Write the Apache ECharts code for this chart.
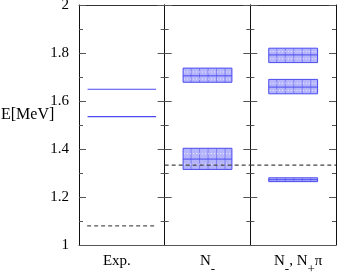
<!DOCTYPE html>
<html><head><meta charset="utf-8">
<script src="https://cdn.jsdelivr.net/npm/echarts@6/dist/echarts.min.js"></script>
<style>html,body{margin:0;padding:0;background:#fff}#c{width:337px;height:273px}</style>
</head><body><div id="c"></div>
<script>
// ---- data ----
const panelLabels = ['{n|Exp.}', '{n|N}{s|-}', '{n|N}{s|-}{n|, N}{s|+}{n|π}'];
const yTicks = [1, 1.2, 1.4, 1.6, 1.8, 2];
const expLevels = [1.535, 1.649];
const expThreshold = 1.08;
const nMinusMid = [1.358, 1.705];
const nMinusLow = [1.315, 1.678];
const nMinusHigh = [1.403, 1.737];
const nPiMid = [1.272, 1.658, 1.792];
const nPiLow = [1.264, 1.630, 1.760];
const nPiHigh = [1.280, 1.690, 1.820];
const latticeThreshold = 1.333;

// ---- layout/style ----
const L = 79, T = 5, H = 240, W = (336 - 79) / 3;
const BLUE = '#4a4af0', FILL = 'rgba(150,150,250,0.7)', FONT = 'Liberation Serif';
const chart = echarts.init(document.getElementById('c'));

const grids = [], xAxes = [], yAxes = [], series = [];
for (let i = 0; i < 3; i++) {
  grids.push({left: L + W * i, top: T, width: W, height: H, containLabel: false, outerBoundsMode: 'none'});
  const shift = [10, 0, -10][i];
  xAxes.push({gridIndex: i, type: 'category', data: ['p'], position: 'bottom',
    axisLine: {lineStyle: {color: '#555', width: 1}}, axisTick: {show: false}, axisLabel: {show: false},
    name: panelLabels[i], nameLocation: 'middle', nameGap: 9,
    nameTextStyle: {padding: [0, shift, 0, 0], verticalAlign: 'top',
      rich: {n: {fontFamily: FONT, fontSize: 15, color: '#000', lineHeight: 14, verticalAlign: 'top'},
             s: {fontFamily: FONT, fontSize: 13, color: '#000', lineHeight: 22, verticalAlign: 'bottom'}}}});
  xAxes.push({gridIndex: i, type: 'category', data: ['p'], position: 'top',
    axisLine: {lineStyle: {color: '#333', width: 1}}, axisTick: {show: false}, axisLabel: {show: false}});
  const yBase = {gridIndex: i, type: 'value', min: yTicks[0], max: yTicks[yTicks.length - 1],
    interval: yTicks[1] - yTicks[0], splitLine: {show: false},
    axisLine: {show: true, lineStyle: {color: '#111', width: 1}},
    axisTick: {show: true, inside: true, length: 7, lineStyle: {color: '#555'}},
    minorTick: {show: true, splitNumber: 2, length: 4, lineStyle: {color: '#555'}}};
  yAxes.push(Object.assign({}, yBase, {position: 'left',
    axisLabel: {show: i === 0, fontFamily: FONT, fontSize: 15, color: '#000', margin: 10,
      formatter: v => String(Math.round(v * 10) / 10)}}));
  yAxes.push(Object.assign({}, yBase, {position: 'right', axisLabel: {show: false}}));
}

function lineItem(frac, dashed, color) {
  return function (params, api) {
    const c = api.coord([0, api.value(1)]);
    const half = api.size([1, 0])[0] * frac / 2;
    return {type: 'line', shape: {x1: c[0] - half, y1: c[1], x2: c[0] + half, y2: c[1]},
      style: {stroke: color, lineWidth: 1.2, lineDash: dashed ? [4, 3] : null}};
  };
}
function boxItem(frac) {
  return function (params, api) {
    const m = api.coord([0, api.value(1)]);
    const lo = api.coord([0, api.value(2)]);
    const hi = api.coord([0, api.value(3)]);
    const half = api.size([1, 0])[0] * frac / 2;
    const x0 = m[0] - half, x1 = m[0] + half;
    const children = [{type: 'rect', shape: {x: x0, y: hi[1], width: x1 - x0, height: lo[1] - hi[1]},
      style: {fill: FILL, stroke: BLUE, lineWidth: 1}}];
    for (let x = x0 + 8; x < x1 - 2; x += 8.5) {
      children.push({type: 'line', shape: {x1: x, y1: hi[1], x2: x, y2: lo[1]},
        style: {stroke: 'rgba(90,90,240,0.6)', lineWidth: 1}});
    }
    const q = hi[1] + (m[1] - hi[1]) / 2, q2 = m[1] + (lo[1] - m[1]) / 2;
    if (lo[1] - hi[1] > 8) {
      [q, q2].forEach(yy => children.push({type: 'line', shape: {x1: x0 + 1, y1: yy, x2: x1 - 1, y2: yy},
        style: {stroke: 'rgba(255,255,255,0.8)', lineWidth: 1, lineDash: [1, 2]}}));
    }
    children.push({type: 'line', shape: {x1: x0, y1: m[1], x2: x1, y2: m[1]}, style: {stroke: BLUE, lineWidth: 1}});
    return {type: 'group', children: children};
  };
}

// Exp panel
series.push({type: 'custom', xAxisIndex: 0, yAxisIndex: 0, renderItem: lineItem(0.8, false, BLUE),
  data: expLevels.map(v => [0, v]), silent: true});
series.push({type: 'custom', xAxisIndex: 0, yAxisIndex: 0, renderItem: lineItem(0.81, true, '#555'),
  data: [[0, expThreshold]], silent: true});
// N- panel
series.push({type: 'custom', xAxisIndex: 2, yAxisIndex: 2, renderItem: boxItem(0.57),
  data: nMinusMid.map((v, k) => [0, v, nMinusLow[k], nMinusHigh[k]]), silent: true});
// N-, N+pi panel
series.push({type: 'custom', xAxisIndex: 4, yAxisIndex: 4, renderItem: boxItem(0.57),
  data: nPiMid.map((v, k) => [0, v, nPiLow[k], nPiHigh[k]]), silent: true});
// lattice threshold across panels 2 and 3
[2, 4].forEach(ix => series.push({type: 'custom', xAxisIndex: ix, yAxisIndex: ix, z: 5,
  renderItem: lineItem(1, true, '#444'), data: [[0, latticeThreshold]], silent: true}));

chart.setOption({
  animation: false,
  grid: grids, xAxis: xAxes, yAxis: yAxes, series: series,
  graphic: [{type: 'text', left: 1, top: 107,
    style: {text: 'E[MeV]', font: '16px "Liberation Serif"', fill: '#000'}}]
});
</script></body></html>
